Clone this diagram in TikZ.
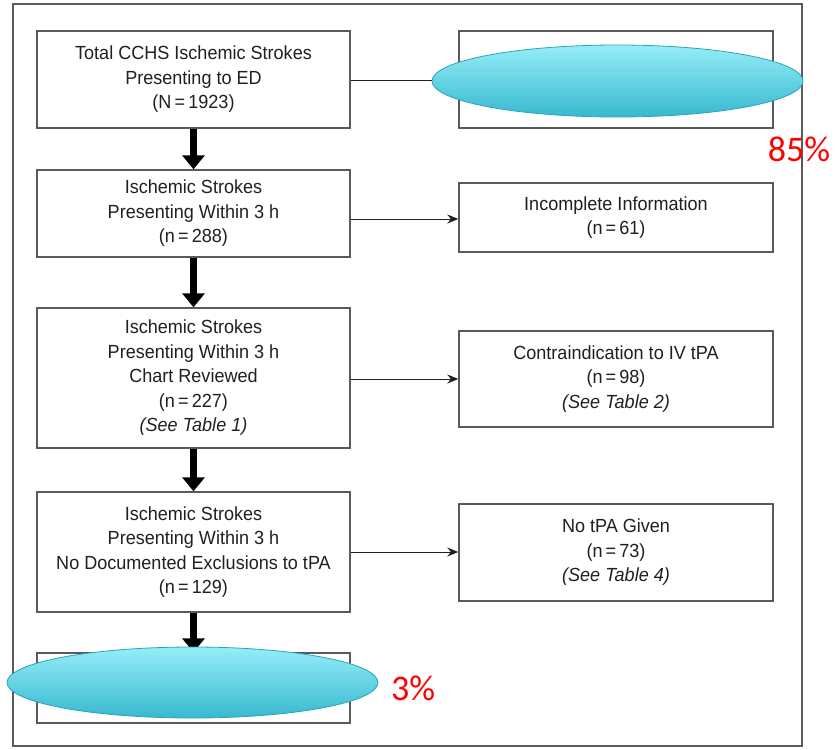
\documentclass[tikz,border=0pt]{standalone}
\usepackage{fontspec}
\setmainfont[FakeStretch=0.95]{Liberation Sans}
\newfontfamily\pctfont{Carlito}
\usetikzlibrary{arrows.meta,shapes.geometric}
\definecolor{txt}{HTML}{231F20}
\definecolor{boxline}{HTML}{5A5A5A}
\definecolor{ellTop}{HTML}{95EEF8}
\definecolor{ellBot}{HTML}{38B8CF}
\definecolor{ellLine}{HTML}{2AA3BA}
\tikzset{
  flowbox/.style={draw=boxline, line width=1.4pt, fill=white, rectangle, align=center,
    text=txt, font=\fontsize{19}{24.5}\selectfont, inner sep=0pt},
  bigarrow/.style={line width=7pt, draw=black, -{Triangle[width=22pt,length=14pt]}},
  thinarrow/.style={line width=1pt, draw=txt, -{Stealth[width=9pt,length=11pt]}},
  blob/.style={ellipse, draw=ellLine, line width=0.8pt, top color=ellTop, bottom color=ellBot, inner sep=0pt},
  pct/.style={text=red, font=\pctfont\fontsize{36}{40}\selectfont, inner sep=0pt}
}
\begin{document}
\begin{tikzpicture}[x=1pt,y=-1pt]
\useasboundingbox (0,0) rectangle (837,749);
\fill[white] (0,0) rectangle (837,749);
\draw[boxline, line width=1.6pt] (13,4) rectangle (802,746);
% left column
\node[flowbox, minimum width=313pt, minimum height=97pt] (b1) at (193.5,79.5)
  {Total CCHS Ischemic Strokes\\Presenting to ED\\(N\,=\,1923)};
\node[flowbox, minimum width=313pt, minimum height=87pt] (b2) at (193.5,213.5)
  {Ischemic Strokes\\Presenting Within 3 h\\(n\,=\,288)};
\node[flowbox, minimum width=313pt, minimum height=140pt] (b3) at (193.5,378)
  {Ischemic Strokes\\Presenting Within 3 h\\Chart Reviewed\\(n\,=\,227)\\\textit{(See Table 1)}};
\node[flowbox, minimum width=313pt, minimum height=120pt] (b4) at (193.5,552)
  {Ischemic Strokes\\Presenting Within 3 h\\No Documented Exclusions to tPA\\(n\,=\,129)};
\node[flowbox, minimum width=313pt, minimum height=70pt] (b5) at (193.5,688) {};
% right column
\node[flowbox, minimum width=314pt, minimum height=97pt] (r1) at (616,79.5) {};
\node[flowbox, minimum width=314pt, minimum height=69pt] (r2) at (616,217.5)
  {Incomplete Information\\(n\,=\,61)};
\node[flowbox, minimum width=314pt, minimum height=96pt] (r3) at (616,379)
  {Contraindication to IV tPA\\(n\,=\,98)\\\textit{(See Table 2)}};
\node[flowbox, minimum width=314pt, minimum height=97pt] (r4) at (616,552.5)
  {No tPA Given\\(n\,=\,73)\\\textit{(See Table 4)}};
% thick arrows
\draw[bigarrow] (b1.south) -- (b2.north);
\draw[bigarrow] (b2.south) -- (b3.north);
\draw[bigarrow] (b3.south) -- (b4.north);
\draw[bigarrow] (b4.south) -- (b5.north);
% side connectors
\coordinate (r2in) at (r2.west |- 0,219);
\coordinate (b2out) at (b2.east |- 0,219);
\draw[thinarrow] (b2out) -- (r2in);
\draw[thinarrow] (b3.east |- r3.west) -- (r3.west);
\draw[thinarrow] (b4.east) -- (r4.west |- b4.east);
% ellipses
\node[blob, minimum width=371pt, minimum height=72pt] (e1) at (617.5,81) {};
\draw[txt, line width=1pt] (b1.east |- e1.west) -- (e1.west);
\node[blob, minimum width=371pt, minimum height=71pt] (e2) at (192.5,682.5) {};
% percentages
\node[pct] (p1) at (799,149) {85\%};
\node[pct] (p2) at (413,688) {3\%};
\end{tikzpicture}
\end{document}
